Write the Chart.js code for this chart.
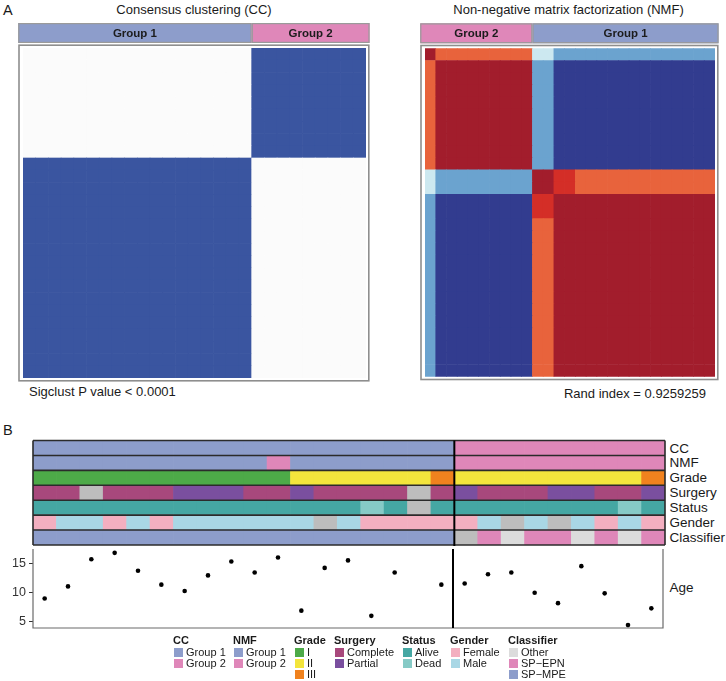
<!DOCTYPE html>
<html><head><meta charset="utf-8">
<script src="https://cdn.jsdelivr.net/npm/chart.js@4.4.1/dist/chart.umd.min.js"></script>
<style>
body{margin:0;background:#fff;font-family:"Liberation Sans",Arial,Helvetica,sans-serif;color:#1a1a1a}
#wrap{position:relative;width:726px;height:681px;overflow:hidden;background:#fff}
canvas{position:absolute}
.t{position:absolute;white-space:nowrap;line-height:1}
.sw{position:absolute;width:9px;height:9px}
</style></head><body><div id="wrap">
<div class="t" style="left:3px;top:3px;font-size:14.5px">A</div>
<div class="t" style="left:3px;top:423px;font-size:14.5px">B</div>
<div class="t" style="left:-6px;width:400px;text-align:center;top:3.3px;font-size:13px">Consensus clustering (CC)</div>
<div class="t" style="left:368.5px;width:400px;text-align:center;top:3.3px;font-size:13px">Non-negative matrix factorization (NMF)</div>
<div class="t" style="left:29px;top:385.3px;font-size:13px">Sigclust P value &lt; 0.0001</div>
<div class="t" style="right:20px;top:386.6px;font-size:13px">Rand index = 0.9259259</div>
<canvas id="cc" width="360" height="365" style="left:14px;top:20px"></canvas>
<canvas id="nmf" width="311" height="365" style="left:415px;top:20px"></canvas>
<canvas id="tracks" width="636" height="109" style="left:31px;top:438px"></canvas>
<canvas id="age" width="667" height="87" style="left:0px;top:545px"></canvas>
<div id="trackLabels"></div>
<div id="legend"></div>
</div>
<script>
// ================= DATA =================
const sampleIds = ['S1','S2','S3','S4','S5','S6','S7','S8','S9','S10','S11','S12','S13','S14','S15','S16','S17','S18','S19','S20','S21','S22','S23','S24','S25','S26','S27'];
const ccGroup = ['Group 1','Group 1','Group 1','Group 1','Group 1','Group 1','Group 1','Group 1','Group 1','Group 1','Group 1','Group 1','Group 1','Group 1','Group 1','Group 1','Group 1','Group 1','Group 2','Group 2','Group 2','Group 2','Group 2','Group 2','Group 2','Group 2','Group 2'];
const nmfGroup = ['Group 1','Group 1','Group 1','Group 1','Group 1','Group 1','Group 1','Group 1','Group 1','Group 1','Group 2','Group 1','Group 1','Group 1','Group 1','Group 1','Group 1','Group 1','Group 2','Group 2','Group 2','Group 2','Group 2','Group 2','Group 2','Group 2','Group 2'];
const grade = ['I','I','I','I','I','I','I','I','I','I','I','II','II','II','II','II','II','III','II','II','II','II','II','II','II','II','III'];
const surgery = ['Complete','Complete',null,'Complete','Complete','Complete','Partial','Partial','Partial','Complete','Complete','Partial','Complete','Complete','Complete','Complete',null,'Complete','Partial','Complete','Complete','Complete','Partial','Partial','Complete','Complete','Partial'];
const status = ['Alive','Alive','Alive','Alive','Alive','Alive','Alive','Alive','Alive','Alive','Alive','Alive','Alive','Alive','Dead','Alive',null,'Alive','Alive','Alive','Alive','Alive','Alive','Alive','Alive','Dead','Alive'];
const gender = ['Female','Male','Male','Female','Male','Female','Male','Male','Male','Male','Male','Male',null,'Male','Female','Female','Female','Female','Female','Male',null,'Male',null,'Male','Female','Male','Female'];
const classifier = ['SP−MPE','SP−MPE','SP−MPE','SP−MPE','SP−MPE','SP−MPE','SP−MPE','SP−MPE','SP−MPE','SP−MPE','SP−MPE','SP−MPE','SP−MPE','SP−MPE','SP−MPE','SP−MPE','SP−MPE','SP−MPE',null,'SP−EPN','Other','SP−EPN','SP−EPN','Other','SP−EPN','Other','SP−EPN'];
const age = [8.9,11.0,15.7,16.8,13.7,11.3,10.2,12.9,15.3,13.4,16.0,6.8,14.2,15.5,5.9,13.4,null,11.3,11.5,13.1,13.4,9.9,8.1,14.5,9.8,4.3,7.2];
const ageTicks = [5,10,15];

// consensus matrices (block form)
const ccBlockLabels = ['Group 1','Group 2'];
const ccBlockSizes = [18,9];
const ccBlockConsensus = [[1,0],[0,1]];
const nmfBlockSizes = [1,9,2,2,13];
const nmfBlockConsensus = [
  [1.0,0.8,0.35,0.2,0.2],
  [0.8,1.0,0.2,0.0,0.0],
  [0.35,0.2,1.0,0.9,0.8],
  [0.2,0.0,0.9,1.0,1.0],
  [0.2,0.0,0.8,1.0,1.0]
];
const nmfStripLabels = ['Group 2','Group 1'];
const nmfStripSizes = [10,17];

// ================= STYLE =================
const FONT = 'Liberation Sans, Arial, Helvetica, sans-serif';
const groupColors = {'Group 1':'#8D9DCB','Group 2':'#DF87B9'};
const trackColors = {
  CC: groupColors, NMF: groupColors,
  Grade: {'I':'#4DAA48','II':'#F3E53C','III':'#F0821E'},
  Surgery: {'Complete':'#A8487C','Partial':'#7A4F9F'},
  Status: {'Alive':'#45A7A3','Dead':'#86CAC6'},
  Gender: {'Female':'#F3AFC0','Male':'#A9D7E5'},
  Classifier: {'Other':'#DCDCDC','SP−EPN':'#DF87B9','SP−MPE':'#8D9DCB'}
};
const naColor = '#BDBDBD';
const ccColor = v => v >= 0.5 ? '#3A55A0' : '#FBFBFB';
const nmfLevels = [0,0.2,0.35,0.8,0.9,1.0];
const nmfLevelColors = ['#323C8F','#6BA3CF','#CCE8F0','#E8633C','#D42E27','#A21D2C'];
const nmfColor = v => { let bi=0,bd=9; nmfLevels.forEach((l,i)=>{const d=Math.abs(l-v); if(d<bd){bd=d;bi=i;}}); return nmfLevelColors[bi]; };

function expandBlocks(sizes){ const out=[]; sizes.forEach((s,b)=>{for(let i=0;i<s;i++) out.push(b);}); return out; }

const hmDecor = {
  id:'hmDecor',
  afterDraw(chart, args, o){
    const {ctx, chartArea:a, scales:{x}} = chart;
    const n = x.getLabels().length, cw = (a.right-a.left)/n;
    ctx.save();
    ctx.strokeStyle = '#8e8e8e'; ctx.lineWidth = 1.6;
    ctx.strokeRect(a.left-4, a.top-2.8, a.right-a.left+6.8, a.bottom-a.top+5.6);
    let k = 0;
    o.labels.forEach((lab,i)=>{
      let x0 = x.getPixelForValue(k) - cw/2; k += o.sizes[i];
      let x1 = x.getPixelForValue(k-1) + cw/2;
      if(i===0) x0 = a.left-4.8;
      if(i===o.labels.length-1) x1 = a.right+3.6;
      const y0 = a.top-25, y1 = a.top-5;
      ctx.fillStyle = groupColors[lab];
      ctx.fillRect(x0, y0, x1-x0, y1-y0);
      ctx.strokeStyle = '#9a9a9a'; ctx.lineWidth = 1.2;
      ctx.strokeRect(x0+0.6, y0+0.6, x1-x0-1.2, y1-y0-1.2);
      ctx.fillStyle = '#1c1c1c'; ctx.font = 'bold 11.5px '+FONT;
      ctx.textAlign='center'; ctx.textBaseline='middle';
      ctx.fillText(lab, (x0+x1)/2, (y0+y1)/2+0.5);
    });
    ctx.restore();
  }
};

function heatChart(id, sizes, cons, colorOf, rowsTopDown, stripLabels, stripSizes, pad){
  const blockOf = expandBlocks(sizes);
  const n = blockOf.length;
  const labels = blockOf.map((_,i)=>'c'+i);
  const datasets = [];
  for(let d=0; d<n; d++){
    const r = rowsTopDown ? n-1-d : d;
    datasets.push({data: blockOf.map(()=>1), backgroundColor: blockOf.map(bc=>colorOf(cons[blockOf[r]][bc])),
      borderWidth:0, barPercentage:1, categoryPercentage:1, stack:'m'});
  }
  return new Chart(document.getElementById(id), {
    type:'bar', data:{labels, datasets}, plugins:[hmDecor],
    options:{responsive:false, animation:false, layout:{padding:pad},
      plugins:{legend:{display:false}, tooltip:{enabled:false}, hmDecor:{labels:stripLabels, sizes:stripSizes}},
      scales:{x:{display:false, stacked:true}, y:{display:false, stacked:true, min:0, max:n}}}
  });
}

heatChart('cc', ccBlockSizes, ccBlockConsensus, ccColor, false, ccBlockLabels, ccBlockSizes, {left:9,top:28,right:8,bottom:7});
heatChart('nmf', nmfBlockSizes, nmfBlockConsensus, nmfColor, true, nmfStripLabels, nmfStripSizes, {left:10,top:28.3,right:11,bottom:8.3});

// ---------- annotation tracks ----------
const trackNames = ['CC','NMF','Grade','Surgery','Status','Gender','Classifier'];
const trackValues = {CC:ccGroup, NMF:nmfGroup, Grade:grade, Surgery:surgery, Status:status, Gender:gender, Classifier:classifier};
const splitAfter = ccGroup.lastIndexOf('Group 1');

const trackDecor = {
  id:'trackDecor',
  afterDraw(chart){
    const {ctx, chartArea:a, scales:{x,y}} = chart;
    ctx.save();
    ctx.strokeStyle = '#2b2b2b'; ctx.lineWidth = 1.6;
    for(let k=0;k<=trackNames.length;k++){
      const py = y.getPixelForValue(k);
      ctx.beginPath(); ctx.moveTo(a.left, py); ctx.lineTo(a.right, py); ctx.stroke();
    }
    ctx.beginPath(); ctx.moveTo(a.left, a.top); ctx.lineTo(a.left, a.bottom); ctx.moveTo(a.right, a.top); ctx.lineTo(a.right, a.bottom); ctx.stroke();
    const vx = (x.getPixelForValue(splitAfter)+x.getPixelForValue(splitAfter+1))/2;
    ctx.strokeStyle='#000'; ctx.lineWidth=2;
    ctx.beginPath(); ctx.moveTo(vx, a.top); ctx.lineTo(vx, a.bottom+1); ctx.stroke();
    ctx.restore();
  }
};
const trackDatasets = trackNames.slice().reverse().map(t=>({
  label:t, data: trackValues[t].map(()=>1),
  backgroundColor: trackValues[t].map(v=> v===null ? naColor : trackColors[t][v]),
  borderWidth:0, barPercentage:1, categoryPercentage:1, stack:'t'
}));
new Chart(document.getElementById('tracks'), {
  type:'bar', data:{labels:sampleIds, datasets:trackDatasets}, plugins:[trackDecor],
  options:{responsive:false, animation:false, layout:{padding:{left:2,top:2.5,right:2,bottom:2}},
    plugins:{legend:{display:false}, tooltip:{enabled:false}},
    scales:{x:{display:false, stacked:true}, y:{display:false, stacked:true, min:0, max:trackNames.length}}}
});

// ---------- age scatter ----------
const ageDecor = {
  id:'ageDecor',
  afterDraw(chart){
    const {ctx, chartArea:a, scales:{x}} = chart;
    ctx.save();
    ctx.strokeStyle='#6a6a6a'; ctx.lineWidth=1.2;
    ctx.beginPath(); ctx.moveTo(a.left, a.top); ctx.lineTo(a.left, a.bottom); ctx.lineTo(a.right, a.bottom); ctx.lineTo(a.right, a.top); ctx.stroke();
    const vx = (x.getPixelForValue(splitAfter)+x.getPixelForValue(splitAfter+1))/2;
    ctx.strokeStyle='#000'; ctx.lineWidth=2;
    ctx.beginPath(); ctx.moveTo(vx, a.top); ctx.lineTo(vx, a.bottom); ctx.stroke();
    ctx.restore();
  }
};
new Chart(document.getElementById('age'), {
  type:'line',
  data:{labels:sampleIds, datasets:[{label:'Age', data:age, showLine:false, pointRadius:2.3, pointBackgroundColor:'#000', pointBorderColor:'#000', pointBorderWidth:0, borderColor:'#000'}]},
  plugins:[ageDecor],
  options:{responsive:false, animation:false, layout:{padding:{left:0,top:0,right:2,bottom:4}},
    plugins:{legend:{display:false}, tooltip:{enabled:false}},
    scales:{
      x:{display:false, offset:true},
      y:{min:3.8, max:17.47, border:{display:false},
         grid:{display:true, drawOnChartArea:false, drawTicks:true, tickLength:4, color:'#333', lineWidth:1},
         afterBuildTicks(s){ s.ticks = ageTicks.map(v=>({value:v})); },
         ticks:{color:'#333', font:{size:12.5, family:FONT}, padding:3},
         afterFit(s){ s.width=33; s.paddingTop=0; s.paddingBottom=0; }}
    }}
});

// ---------- text labels ----------
const tl = document.getElementById('trackLabels');
trackNames.forEach((t,i)=>{
  const d=document.createElement('div'); d.className='t'; d.textContent=t;
  d.style.cssText='left:669.5px;font-size:13.5px;top:'+(441.5+14.93*i)+'px';
  tl.appendChild(d);
});
const ag=document.createElement('div'); ag.className='t'; ag.textContent='Age';
ag.style.cssText='left:669.5px;font-size:13.5px;top:581px'; tl.appendChild(ag);

// ---------- legend ----------
const legendGroups = [
  {title:'CC', key:'CC', items:['Group 1','Group 2']},
  {title:'NMF', key:'NMF', items:['Group 1','Group 2']},
  {title:'Grade', key:'Grade', items:['I','II','III']},
  {title:'Surgery', key:'Surgery', items:['Complete','Partial']},
  {title:'Status', key:'Status', items:['Alive','Dead']},
  {title:'Gender', key:'Gender', items:['Female','Male']},
  {title:'Classifier', key:'Classifier', items:['Other','SP−EPN','SP−MPE']}
];
const legendLeft = [173,233,294,334,402,450,508];
const lg = document.getElementById('legend');
legendGroups.forEach((g,gi)=>{
  const L = legendLeft[gi];
  const h=document.createElement('div'); h.className='t'; h.textContent=g.title;
  h.style.cssText='left:'+L+'px;top:634.6px;font-size:11px;font-weight:bold'; lg.appendChild(h);
  g.items.forEach((it,ii)=>{
    const s=document.createElement('div'); s.className='sw';
    s.style.cssText+='left:'+(L+0.5)+'px;top:'+(648+11*ii)+'px;background:'+trackColors[g.key][it];
    lg.appendChild(s);
    const tx=document.createElement('div'); tx.className='t'; tx.textContent=it;
    tx.style.cssText='left:'+(L+13)+'px;top:'+(647+11*ii)+'px;font-size:11px'; lg.appendChild(tx);
  });
});
</script>
</body></html>
